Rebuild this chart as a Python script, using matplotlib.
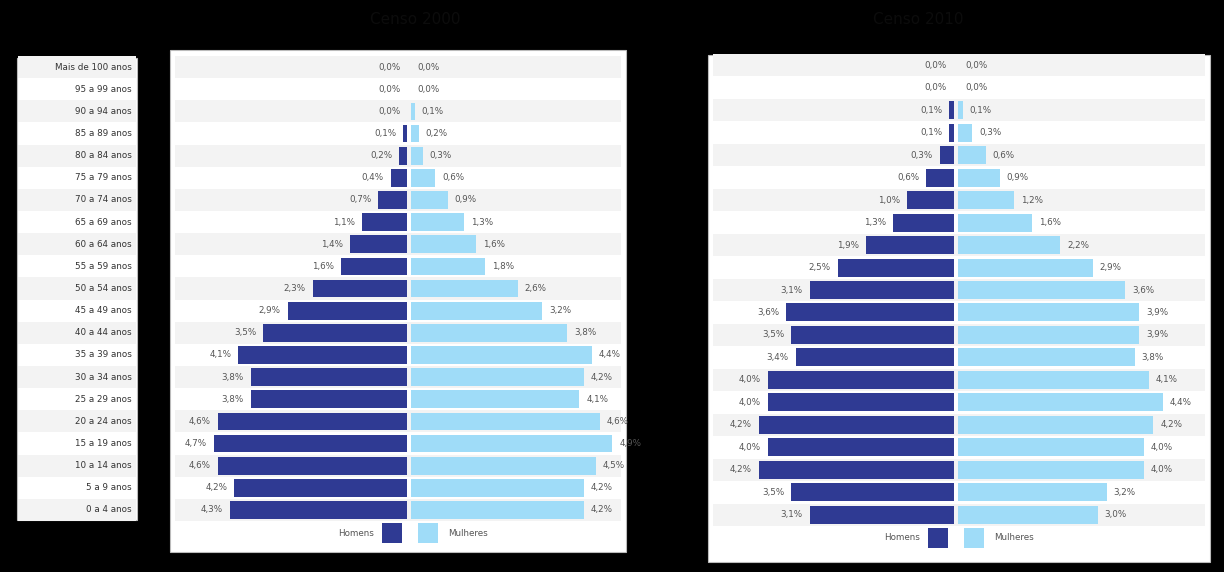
import matplotlib
matplotlib.use("Agg")
import matplotlib.pyplot as plt
from matplotlib.patches import Rectangle

# ---------------- data ----------------
age_groups = ["Mais de 100 anos", "95 a 99 anos", "90 a 94 anos", "85 a 89 anos",
              "80 a 84 anos", "75 a 79 anos", "70 a 74 anos", "65 a 69 anos",
              "60 a 64 anos", "55 a 59 anos", "50 a 54 anos", "45 a 49 anos",
              "40 a 44 anos", "35 a 39 anos", "30 a 34 anos", "25 a 29 anos",
              "20 a 24 anos", "15 a 19 anos", "10 a 14 anos", "5 a 9 anos", "0 a 4 anos"]

men_2000 = [0.0, 0.0, 0.0, 0.1, 0.2, 0.4, 0.7, 1.1, 1.4, 1.6, 2.3, 2.9, 3.5,
            4.1, 3.8, 3.8, 4.6, 4.7, 4.6, 4.2, 4.3]
women_2000 = [0.0, 0.0, 0.1, 0.2, 0.3, 0.6, 0.9, 1.3, 1.6, 1.8, 2.6, 3.2, 3.8,
              4.4, 4.2, 4.1, 4.6, 4.9, 4.5, 4.2, 4.2]

men_2010 = [0.0, 0.0, 0.1, 0.1, 0.3, 0.6, 1.0, 1.3, 1.9, 2.5, 3.1, 3.6, 3.5,
            3.4, 4.0, 4.0, 4.2, 4.0, 4.2, 3.5, 3.1]
women_2010 = [0.0, 0.0, 0.1, 0.3, 0.6, 0.9, 1.2, 1.6, 2.2, 2.9, 3.6, 3.9, 3.9,
              3.8, 4.1, 4.4, 4.2, 4.0, 4.0, 3.2, 3.0]

titles = ["Censo 2000", "Censo 2010"]
legend_labels = ["Homens", "Mulheres"]

# ---------------- style ----------------
DARK = "#2f3a93"
LIGHT = "#9fdcf8"
BAND = "#f3f3f3"
TXT = "#555555"
W, H = 1224, 572

fig = plt.figure(figsize=(W / 100, H / 100), dpi=100, facecolor="black")


def px_axes(x0, y0, x1, y1, **kw):
    return fig.add_axes([x0 / W, 1 - y1 / H, (x1 - x0) / W, (y1 - y0) / H], **kw)


def fmt(v):
    return f"{v:.1f}%".replace(".", ",")


# background overlay in pixel coordinates (panels, titles, legends)
bg = px_axes(0, 0, W, H)
bg.set_xlim(0, W)
bg.set_ylim(H, 0)
bg.axis("off")
bg.patch.set_alpha(0)

for (x0, y0, x1, y1) in [(17, 58, 137, 520), (170, 50, 626, 552), (708, 55, 1210, 562)]:
    bg.add_patch(Rectangle((x0, y0), x1 - x0, y1 - y0, facecolor="white",
                           edgecolor="#bbbbbb", lw=0.8))

bg.text(415, 20, titles[0], ha="center", va="center", fontsize=11, color="#0c0c0c")
bg.text(918, 20, titles[1], ha="center", va="center", fontsize=11, color="#0c0c0c")

n = len(age_groups)
ypos = list(range(n))

# label panel
lab = px_axes(17, 56, 137, 521)
lab.set_xlim(0, 1)
lab.set_ylim(n - 0.5, -0.5)
lab.axis("off")
lab.patch.set_alpha(0)
for i, g in enumerate(age_groups):
    if i % 2 == 0:
        lab.axhspan(i - 0.5, i + 0.5, xmin=0.01, xmax=0.99, color=BAND, lw=0)
    lab.text(0.955, i, g, ha="right", va="center", fontsize=6.3, color="#333333")


def pyramid(box, men, women, xlim, gap, legend_xy):
    ax = px_axes(*box)
    ax.patch.set_alpha(0)
    ax.set_xlim(*xlim)
    ax.set_ylim(n - 0.5, -0.5)
    ax.axis("off")
    for i in ypos:
        if i % 2 == 0:
            ax.axhspan(i - 0.5, i + 0.5, xmin=0.01, xmax=0.99, color=BAND, lw=0, zorder=0)
    ax.barh(ypos, [-m for m in men], left=-gap, height=0.8, color=DARK, zorder=2)
    ax.barh(ypos, women, left=gap, height=0.8, color=LIGHT, zorder=2)
    for i, (m, w) in enumerate(zip(men, women)):
        ax.annotate(fmt(m), (-gap - m, i), xytext=(-5, 0), textcoords="offset points",
                    ha="right", va="center", fontsize=6.3, color=TXT)
        ax.annotate(fmt(w), (gap + w, i), xytext=(5, 0), textcoords="offset points",
                    ha="left", va="center", fontsize=6.3, color=TXT)
    # legend
    lx, ly = legend_xy
    bg.text(lx - 8, ly, legend_labels[0], ha="right", va="center", fontsize=6.3, color=TXT)
    bg.add_patch(Rectangle((lx, ly - 10), 20, 20, facecolor=DARK, lw=0))
    bg.add_patch(Rectangle((lx + 36, ly - 10), 20, 20, facecolor=LIGHT, lw=0))
    bg.text(lx + 66, ly, legend_labels[1], ha="left", va="center", fontsize=6.3, color=TXT)


pyramid((170, 56, 626, 521), men_2000, women_2000, (-5.8, 5.27), 0.04, (382, 533))
pyramid((708, 54, 1210, 526), men_2010, women_2010, (-5.33, 5.46), 0.043, (928, 538))

fig.savefig("out.png", dpi=100, facecolor="black")
